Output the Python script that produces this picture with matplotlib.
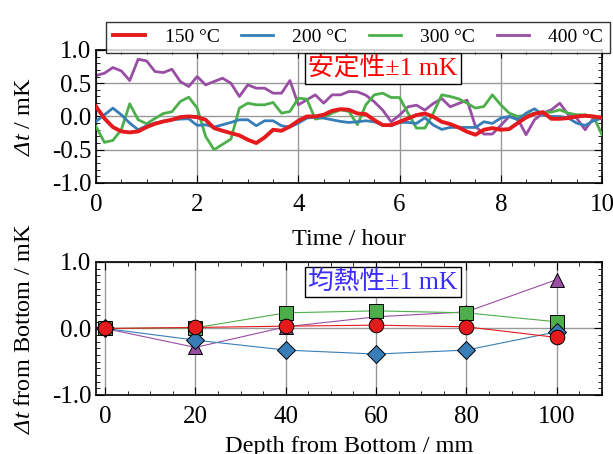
import numpy as np
import matplotlib
matplotlib.use("Agg")
import matplotlib.pyplot as plt
from matplotlib.ticker import MultipleLocator, FormatStrFormatter

plt.rcParams['font.family'] = ['Liberation Serif', 'Noto Sans CJK JP']
plt.rcParams['mathtext.fontset'] = 'custom'
plt.rcParams['mathtext.rm'] = 'Liberation Serif:italic'
plt.rcParams['mathtext.it'] = 'Liberation Serif:italic'
plt.rcParams['font.size'] = 17.5

# time series, 10 min steps
time_h = np.arange(61) / 6.0
d150 = [0.15, -0.03, -0.16, -0.225, -0.24, -0.225, -0.16, -0.11, -0.075, -0.05,
        -0.01, 0.0, -0.01, -0.05, -0.175, -0.215, -0.25, -0.285, -0.35, -0.4,
        -0.315, -0.2, -0.215, -0.15, -0.065, 0.0, 0.0, 0.025, 0.085, 0.11,
        0.1, 0.045, 0.035, -0.055, -0.13, -0.13, -0.08, -0.03, 0.02, 0.045,
        -0.005, -0.08, -0.115, -0.165, -0.23, -0.275, -0.2, -0.175, -0.2, -0.19,
        -0.1, -0.015, 0.04, 0.065, -0.035, -0.035, -0.025, 0.0, 0.01, 0.0, -0.02]
d200 = [-0.075, 0.025, 0.125, 0.025, -0.1, -0.2, -0.14, -0.1, -0.075, -0.05,
        -0.04, -0.035, -0.135, -0.125, -0.16, -0.125, -0.09, -0.05, -0.05, -0.14,
        -0.065, -0.065, -0.14, -0.16, -0.1, -0.025, -0.01, -0.025, -0.05, -0.075,
        -0.09, -0.08, -0.065, -0.08, -0.13, -0.14, -0.09, -0.09, -0.105, -0.02,
        -0.13, -0.195, -0.165, -0.165, -0.165, -0.165, -0.08, -0.105, -0.025, 0.0,
        -0.05, 0.05, 0.115, 0.025, 0.0, 0.0, -0.025, -0.1, -0.135, -0.065, -0.025]
d300 = [-0.15, -0.39, -0.36, -0.2, 0.19, -0.05, -0.11, -0.03, 0.045, 0.07,
        0.225, 0.29, 0.125, -0.3, -0.5, -0.42, -0.34, 0.125, 0.2, 0.175,
        0.175, 0.21, 0.05, 0.075, 0.275, 0.26, -0.04, -0.015, 0.05, 0.1,
        0.075, -0.125, 0.175, 0.325, 0.35, 0.285, 0.285, 0.05, -0.175, -0.175,
        0.05, 0.325, 0.3, 0.265, 0.2, 0.125, 0.15, 0.325, 0.175, 0.05,
        0.0, 0.015, 0.05, 0.06, 0.065, 0.1, 0.05, 0.025, 0.025, 0.0, -0.275]
d400 = [0.615, 0.65, 0.735, 0.685, 0.54, 0.86, 0.835, 0.675, 0.66, 0.71,
        0.525, 0.45, 0.6, 0.475, 0.525, 0.575, 0.5, 0.3, 0.475, 0.425,
        0.425, 0.35, 0.35, 0.54, 0.175, 0.25, 0.325, 0.2, 0.325, 0.325,
        0.375, 0.37, 0.32, 0.22, 0.095, -0.08, 0.02, 0.145, 0.17, 0.095,
        0.195, 0.27, 0.145, 0.195, 0.245, -0.15, -0.265, -0.265, -0.135, 0.0,
        -0.035, -0.275, -0.05, 0.05, 0.1, 0.2, 0.025, -0.025, -0.2, -0.025, 0.0]

# depth profile
depth_mm = [0, 20, 40, 60, 80, 100]
p150 = [0.0, 0.015, 0.035, 0.05, 0.025, -0.135]
p200 = [0.0, -0.175, -0.325, -0.385, -0.325, -0.05]
p300 = [0.0, 0.01, 0.235, 0.265, 0.235, 0.1]
p400 = [0.0, -0.285, 0.025, 0.175, 0.25, 0.735]

labels = ['150 °C', '200 °C', '300 °C', '400 °C']
colors = ['#e41a1c', '#377eb8', '#4daf4a', '#984ea3']

fig = plt.figure(figsize=(6.13, 4.54), dpi=100)
ax1 = fig.add_axes([0.1566, 0.597, 0.8254, 0.293])
ax2 = fig.add_axes([0.1566, 0.130, 0.8254, 0.293])

series = [d150, d200, d300, d400]
lws = [2.8, 2.0, 2.0, 2.0]
handles = []
for i in [3, 2, 1, 0]:
    h, = ax1.plot(time_h, series[i], color=colors[i], lw=lws[i], label=labels[i], zorder=5 - i)
    handles.append(h)
handles = handles[::-1]

ax1.set_xlim(0, 10)
ax1.set_ylim(-1, 1)
ax1.xaxis.set_major_locator(MultipleLocator(2))
ax1.xaxis.set_minor_locator(MultipleLocator(0.5))
ax1.yaxis.set_major_locator(MultipleLocator(0.5))
ax1.yaxis.set_minor_locator(MultipleLocator(0.1))
ax1.yaxis.set_major_formatter(FormatStrFormatter('%.1f'))
ax1.set_xlabel('Time / hour', labelpad=9)
ax1.set_ylabel(r'$Δt$ / mK', labelpad=12)
ax1.text(0.567, 0.86, '安定性±1 mK', transform=ax1.transAxes, color='red',
         fontsize=18.5, ha='center', va='center', zorder=10,
         bbox=dict(boxstyle='square,pad=0.12', fc='white', ec='black', lw=1))

profiles = [p150, p200, p300, p400]
markers = ['o', 'D', 's', '^']
msizes = [10.5, 9.5, 9.5, 10.5]
zo = [6, 5, 4, 3]
for i in range(4):
    ax2.plot(depth_mm, profiles[i], color=colors[i], lw=0.8, marker=markers[i],
             ms=msizes[i], mfc=colors[i], mec='black', mew=0.7, zorder=zo[i])

ax2.set_xlim(-2, 110)
ax2.set_ylim(-1, 1)
ax2.xaxis.set_major_locator(MultipleLocator(20))
ax2.xaxis.set_minor_locator(MultipleLocator(5))
ax2.yaxis.set_major_locator(MultipleLocator(1))
ax2.yaxis.set_minor_locator(MultipleLocator(0.1))
ax2.yaxis.set_major_formatter(FormatStrFormatter('%.1f'))
ax2.set_xlabel('Depth from Bottom / mm', labelpad=6)
ax2.set_ylabel(r'$Δt$ from Bottom / mK', labelpad=12)
ax2.text(0.567, 0.85, '均熱性±1 mK', transform=ax2.transAxes, color='#3a2cff',
         fontsize=18.5, ha='center', va='center', zorder=10,
         bbox=dict(boxstyle='square,pad=0.12', fc='white', ec='black', lw=1))

for ax in (ax1, ax2):
    ax.grid(True, which='major', color='#999999', lw=1, zorder=0)
    ax.tick_params(which='both', direction='in', top=True, right=True)
    ax.tick_params(which='major', length=6, labelsize=18)
    ax.tick_params(which='minor', length=3)
    ax.tick_params(axis='x', which='major', pad=8)
    for s in ax.spines.values():
        s.set_linewidth(1.2)

leg = fig.legend(handles, labels, loc='upper center', ncol=4,
                 bbox_to_anchor=(0.584, 0.974), fontsize=14, frameon=True,
                 fancybox=False, edgecolor='black', handlelength=1.65,
                 handletextpad=1.0, columnspacing=1.1, borderpad=0.35)
leg.get_frame().set_linewidth(1)

fig.savefig('out.png', dpi=100)
